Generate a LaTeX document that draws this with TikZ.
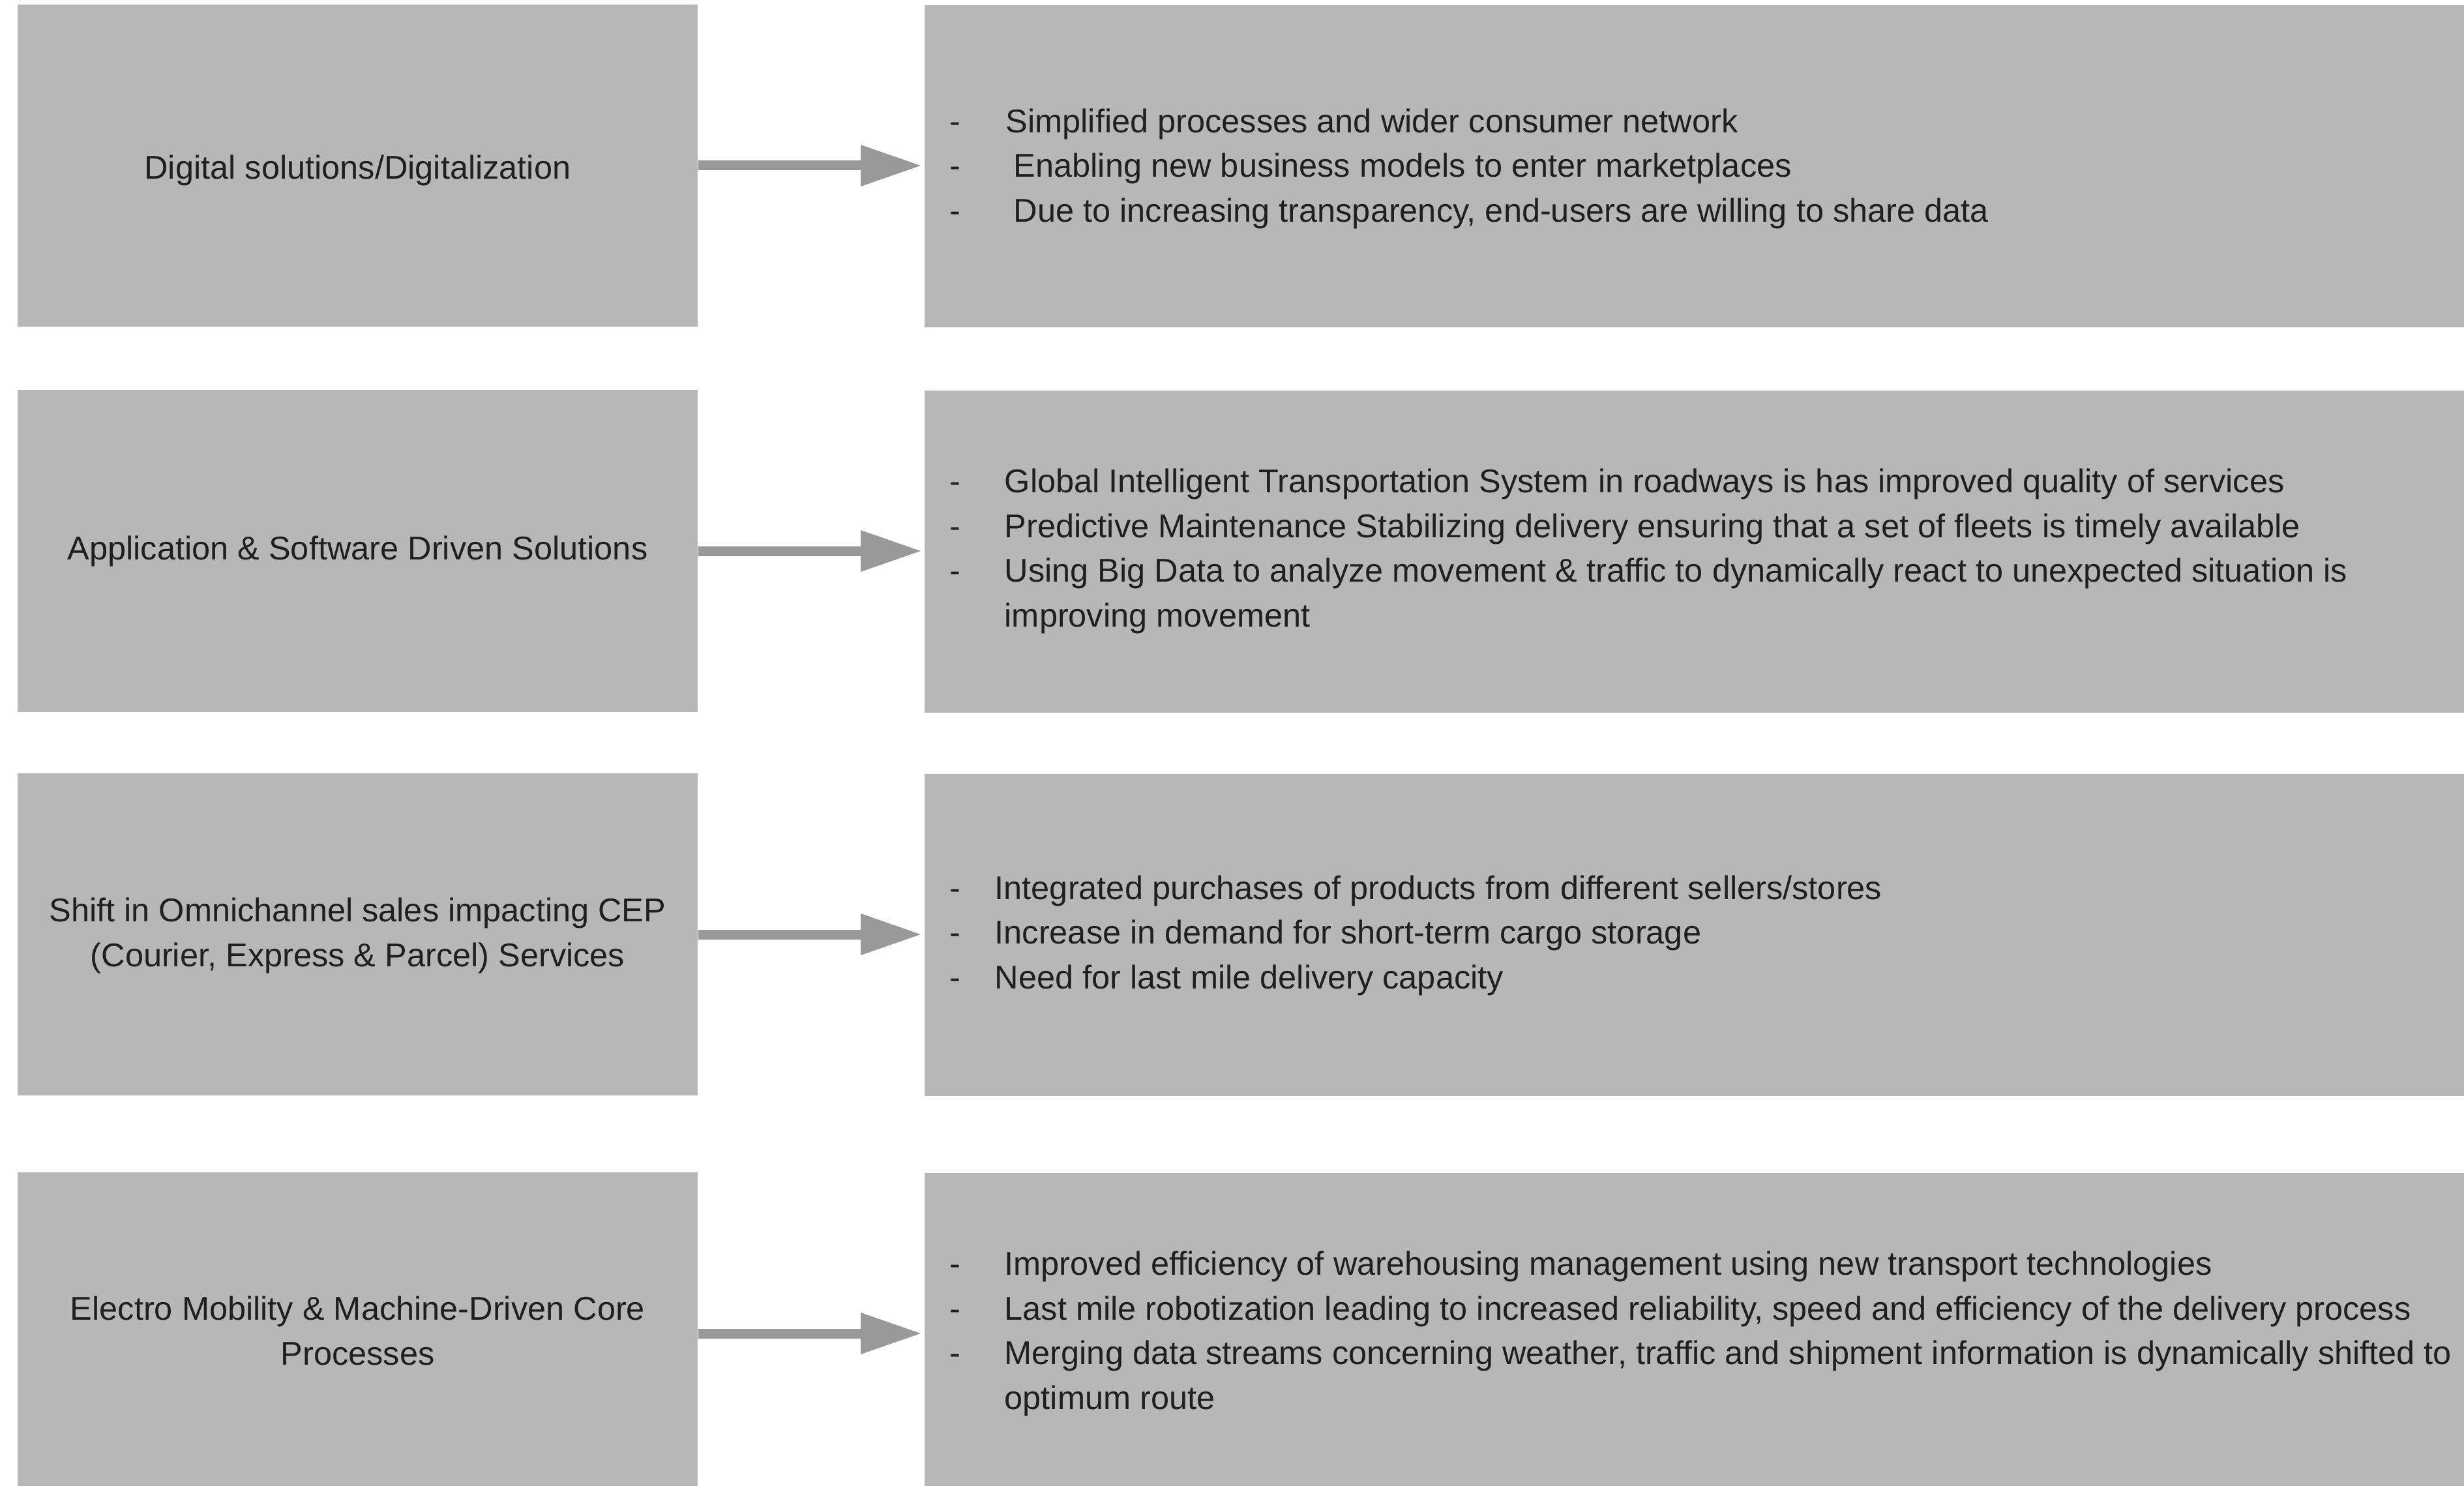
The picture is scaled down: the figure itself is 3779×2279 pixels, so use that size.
\documentclass[tikz,border=0pt]{standalone}
\usepackage{fontspec}
\setmainfont{Liberation Sans}
\usetikzlibrary{arrows.meta}
\definecolor{boxgray}{HTML}{B7B7B7}
\definecolor{arrowgray}{HTML}{999999}
\definecolor{txtcol}{HTML}{1F1F1F}
\tikzset{
  basefont/.style={font=\fontsize{14.37pt}{19.49pt}\selectfont, text=txtcol},
  leftbox/.style={fill=boxgray, draw=none, inner sep=0pt,
    minimum width=104.3mm, minimum height=49.4mm},
  labeltext/.style={basefont, inner sep=0pt, align=center},
  rightbox/.style={fill=boxgray, draw=none, inner sep=0pt, anchor=north west,
    minimum width=236.2mm, minimum height=49.4mm},
  listtext/.style={basefont, anchor=west, inner sep=0pt, align=left},
  flowarrow/.style={draw=arrowgray, line width=1.5mm, shorten >=0.5mm,
    -{Triangle[length=9.2mm,width=6.4mm,line width=0pt]}}
}
\begin{document}
\begin{tikzpicture}[x=0.1mm,y=-0.1mm]
\useasboundingbox (0,0) rectangle (3779,2279);
\fill[white] (0,0) rectangle (3779,2279);

% left boxes
\node[leftbox] (L1) at (548.5,254) {};
\node[leftbox] (L2) at (548.5,845) {};
\node[leftbox] (L3) at (548.5,1433) {};
\node[leftbox] (L4) at (548.5,2045) {};

% left labels
\node[labeltext] (LT1) at (548.5,261) {Digital solutions/Digitalization};
\node[labeltext] (LT2) at (548.5,845) {Application \& Software Driven Solutions};
\node[labeltext] (LT3) at (548.5,1435) {Shift in Omnichannel sales impacting CEP\\(Courier, Express \& Parcel) Services};
\node[labeltext] (LT4) at (548.5,2041) {Electro Mobility \& Machine-Driven Core\\Processes};

% right boxes
\node[rightbox] (R1) at (1417,7) {};
\node[rightbox] (R2) at (1417,598) {};
\node[rightbox] (R3) at (1417,1186) {};
\node[rightbox] (R4) at (1417,1798) {};

% right texts
\node[listtext] (T1) at (1456,258) {\begin{tabular}{@{}p{8.6mm}@{}l@{}}
-&Simplified processes and wider consumer network\\
-&\hspace{1.2mm}Enabling new business models to enter marketplaces\\
-&\hspace{1.2mm}Due to increasing transparency, end-users are willing to share data
\end{tabular}};
\node[listtext] (T2) at (1456,845) {\begin{tabular}{@{}p{8.4mm}@{}l@{}}
-&Global Intelligent Transportation System in roadways is has improved quality of services\\
-&Predictive Maintenance Stabilizing delivery ensuring that a set of fleets is timely available\\
-&Using Big Data to analyze movement \& traffic to dynamically react to unexpected situation is\\
&improving movement
\end{tabular}};
\node[listtext] (T3) at (1456,1434) {\begin{tabular}{@{}p{6.9mm}@{}l@{}}
-&Integrated purchases of products from different sellers/stores\\
-&Increase in demand for short-term cargo storage\\
-&Need for last mile delivery capacity
\end{tabular}};
\node[listtext] (T4) at (1456,2045) {\begin{tabular}{@{}p{8.4mm}@{}l@{}}
-&Improved efficiency of warehousing management using new transport technologies\\
-&Last mile robotization leading to increased reliability, speed and efficiency of the delivery process\\
-&Merging data streams concerning weather, traffic and shipment information is dynamically shifted to\\
&optimum route
\end{tabular}};

% arrows
\draw[flowarrow] (L1.east) -- (L1.east -| R1.west);
\draw[flowarrow] (L2.east) -- (L2.east -| R2.west);
\draw[flowarrow] (L3.east) -- (L3.east -| R3.west);
\draw[flowarrow] (L4.east) -- (L4.east -| R4.west);
\end{tikzpicture}
\end{document}
